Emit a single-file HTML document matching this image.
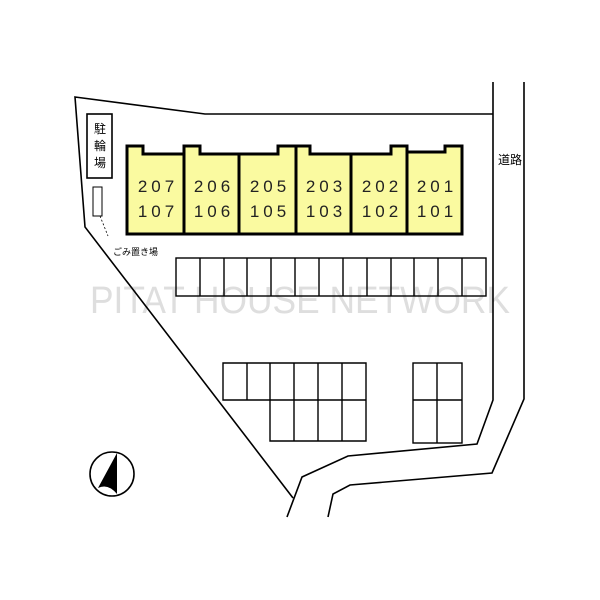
<!DOCTYPE html>
<html><head><meta charset="utf-8"><style>
html,body{margin:0;padding:0;background:#fff;}
svg{display:block;}
</style></head><body>
<svg width="600" height="600" viewBox="0 0 600 600" xmlns="http://www.w3.org/2000/svg">
<text x="300" y="313" text-anchor="middle" font-family="Liberation Sans, sans-serif" font-size="38" fill="#dedede" textLength="420" lengthAdjust="spacingAndGlyphs">PITAT HOUSE NETWORK</text>
<g fill="none" stroke="#000" stroke-width="1.6">
<polyline points="493,82 493,400 477,444 348,456 302,477 287,517"/>
<polyline points="524,82 524,399 492,473 350,485 333,494 328,517"/>
<polyline points="493,114 205,114 75,97 85,227 293,498"/>
</g>
<path d="M127,146 H143 V154 H184 V146 H200 V154 H278 V146 H310 V154 H391 V146 H407 V152 H445 V146 H462 V234 H127 Z" fill="#fafaa0" stroke="#000" stroke-width="3"/>
<g stroke="#000" stroke-width="3">
<line x1="184" y1="146" x2="184" y2="234"/><line x1="239" y1="154" x2="239" y2="234"/>
<line x1="296" y1="146" x2="296" y2="234"/><line x1="351" y1="154" x2="351" y2="234"/>
<line x1="407" y1="146" x2="407" y2="234"/>
</g>
<g font-family="Liberation Sans, sans-serif" font-size="17" text-anchor="middle" letter-spacing="4" fill="#222">
<text x="158" y="192">207</text><text x="158" y="217">107</text>
<text x="214" y="192">206</text><text x="214" y="217">106</text>
<text x="270" y="192">205</text><text x="270" y="217">105</text>
<text x="326" y="192">203</text><text x="326" y="217">103</text>
<text x="382" y="192">202</text><text x="382" y="217">102</text>
<text x="437" y="192">201</text><text x="437" y="217">101</text>
</g>
<rect x="87" y="114" width="25" height="64" fill="#fff" stroke="#000" stroke-width="1.6"/>
<g font-family="Liberation Sans, 'Noto Sans CJK JP', sans-serif" font-size="12" text-anchor="middle" fill="#000">
<text x="100" y="133">駐</text><text x="100" y="150">輪</text><text x="100" y="167">場</text>
<text x="510" y="164">道路</text>
</g>
<rect x="93" y="187" width="9" height="29" fill="#fff" stroke="#000" stroke-width="1"/>
<line x1="100" y1="216" x2="108" y2="236" stroke="#000" stroke-width="0.8" stroke-dasharray="2,2"/>
<text x="113" y="255" font-family="Liberation Sans, 'Noto Sans CJK JP', sans-serif" font-size="9" fill="#000">ごみ置き場</text>
<g fill="none" stroke="#000" stroke-width="1.4">
<rect x="176" y="258" width="310" height="38"/>
<path d="M200,258V296M224,258V296M247,258V296M271,258V296M295,258V296M319,258V296M343,258V296M367,258V296M391,258V296M414,258V296M438,258V296M462,258V296"/>
<path d="M223,363H366V441H270V400H223Z"/>
<path d="M270,400H366M247,363V400M270,363V400M294,363V441M318,363V441M342,363V441"/>
<rect x="413" y="363" width="49" height="80"/>
<path d="M413,400H462M437,363V443"/>
</g>
<circle cx="112" cy="474" r="22" fill="none" stroke="#000" stroke-width="1.6"/>
<path d="M117,453 V494 Q108,483 98,488 Z" fill="#000"/>
</svg>
</body></html>
